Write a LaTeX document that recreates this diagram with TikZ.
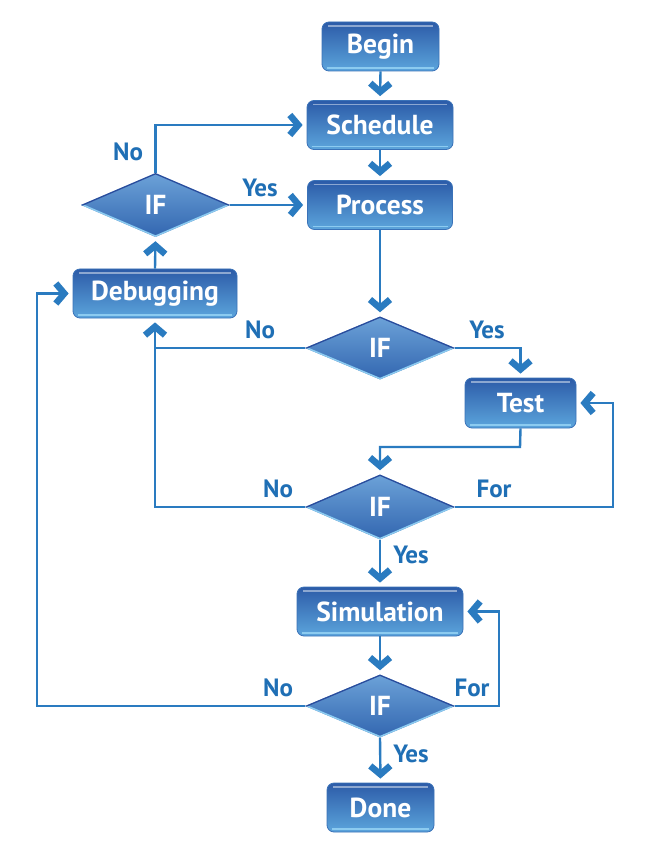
\documentclass[tikz,border=0pt]{standalone}
\usepackage{fontspec}
\setmainfont{PT Sans}
\usetikzlibrary{shapes.geometric,arrows.meta,calc}
\definecolor{boxtop}{HTML}{2C5BA8}
\definecolor{boxbot}{HTML}{5CA5DC}
\definecolor{boxedge}{HTML}{3A72B8}
\definecolor{boxlite}{HTML}{8CCBF0}
\definecolor{diatop}{HTML}{6CA2D8}
\definecolor{diabot}{HTML}{3266B0}
\definecolor{diadark}{HTML}{2A4C9C}
\definecolor{lnblue}{HTML}{2A7BC0}
\definecolor{lblblue}{HTML}{1F6FB5}
\tikzset{
  stepbox/.style={rectangle, rounded corners=7pt, minimum height=49pt, inner sep=0pt,
    draw=boxedge, line width=0.8pt, top color=boxtop, bottom color=boxbot,
    text=white, font=\fontsize{27.5}{30}\selectfont\bfseries,
    path picture={
      \draw[white, opacity=0.45, line width=1.6pt]
        ([xshift=6pt,yshift=-4pt]path picture bounding box.north west) --
        ([xshift=-6pt,yshift=-4pt]path picture bounding box.north east);
      \draw[boxlite, line width=1.6pt]
        ([xshift=5pt,yshift=3pt]path picture bounding box.south west) --
        ([xshift=-5pt,yshift=3pt]path picture bounding box.south east);
    }},
  decision/.style={diamond, inner sep=0pt, minimum width=150pt, minimum height=64pt,
    top color=diatop, bottom color=diabot, draw=none,
    text=white, font=\fontsize{27.5}{30}\selectfont\bfseries,
    path picture={
      \draw[boxlite, line width=3pt]
        (path picture bounding box.west) -- (path picture bounding box.south) --
        (path picture bounding box.east);
      \draw[diadark, line width=2.5pt]
        (path picture bounding box.west) -- (path picture bounding box.north) --
        (path picture bounding box.east);
    }},
  conn/.style={draw=lnblue, line width=2.4pt},
  arr/.style={conn, -{Straight Barb[sharp, length=8.5pt, width=20pt, line width=6.5pt]}, shorten >=4pt},
  lbl/.style={text=lblblue, font=\fontsize{25}{28}\selectfont\bfseries, anchor=base, inner sep=0pt}
}
\begin{document}
\begin{tikzpicture}[x=1pt,y=-1pt]
\useasboundingbox[fill=white] (0,0) rectangle (650,858);
% nodes
\node[stepbox, minimum width=117pt] (begin) at (380.5,46.5) {Begin};
\node[stepbox, minimum width=146pt] (sched) at (380,125) {Schedule};
\node[stepbox, minimum width=145pt] (proc) at (380,205) {Process};
\node[decision, minimum width=149pt] (if1) at (155.5,205) {IF};
\node[stepbox, minimum width=164pt] (debug) at (155,293.5) {Debugging};
\node[decision, minimum height=63pt] (if2) at (380,348) {IF};
\node[stepbox, minimum width=111pt, minimum height=50pt] (test) at (520.5,403) {Test};
\node[decision, minimum height=65pt] (if3) at (380,507) {IF};
\node[stepbox, minimum width=166pt] (sim) at (380,611.5) {Simulation};
\node[decision, minimum height=63pt] (if4) at (380,706) {IF};
\node[stepbox, minimum width=107pt] (done) at (380.5,807.5) {Done};
% helper coordinates
\coordinate (tdrop) at (520,447);
\coordinate (testloop) at (613,507);
\coordinate (simloop) at (499,706);
\coordinate (leftrail) at (37,706);
% connectors
\draw[arr] (begin.south) -- (sched.north);
\draw[arr] (sched.south) -- (proc.north);
\draw[arr] (proc.south) -- (if2.north);
\draw[arr] (if1.north) |- (sched.west);
\draw[arr] (if1.east) -- (proc.west);
\draw[arr] (debug.north) -- (if1.south);
\draw[arr] (if2.west) -| (debug.south);
\draw[arr] (if2.east) -| (test.north);
\draw[arr] (test.south) -- (tdrop) -| (if3.north);
\draw[conn] (if3.west) -| (if2.west -| debug.south);
\draw[arr] (if3.east) -- (testloop) |- (test.east);
\draw[arr] (if3.south) -- (sim.north);
\draw[arr] (sim.south) -- (if4.north);
\draw[arr] (if4.east) -- (simloop) |- (sim.east);
\draw[arr] (if4.west) -- (leftrail) |- (debug.west);
\draw[arr] (if4.south) -- (done.north);
% labels
\node[lbl] (l1) at (128,161) {No};
\node[lbl] (l2) at (260,197) {Yes};
\node[lbl] (l3) at (260,338) {No};
\node[lbl] (l4) at (487,338) {Yes};
\node[lbl] (l5) at (278,497) {No};
\node[lbl] (l6) at (494,497) {For};
\node[lbl] (l7) at (411,563) {Yes};
\node[lbl] (l8) at (278,696) {No};
\node[lbl] (l9) at (472,696) {For};
\node[lbl] (l10) at (411,762) {Yes};
\end{tikzpicture}
\end{document}
